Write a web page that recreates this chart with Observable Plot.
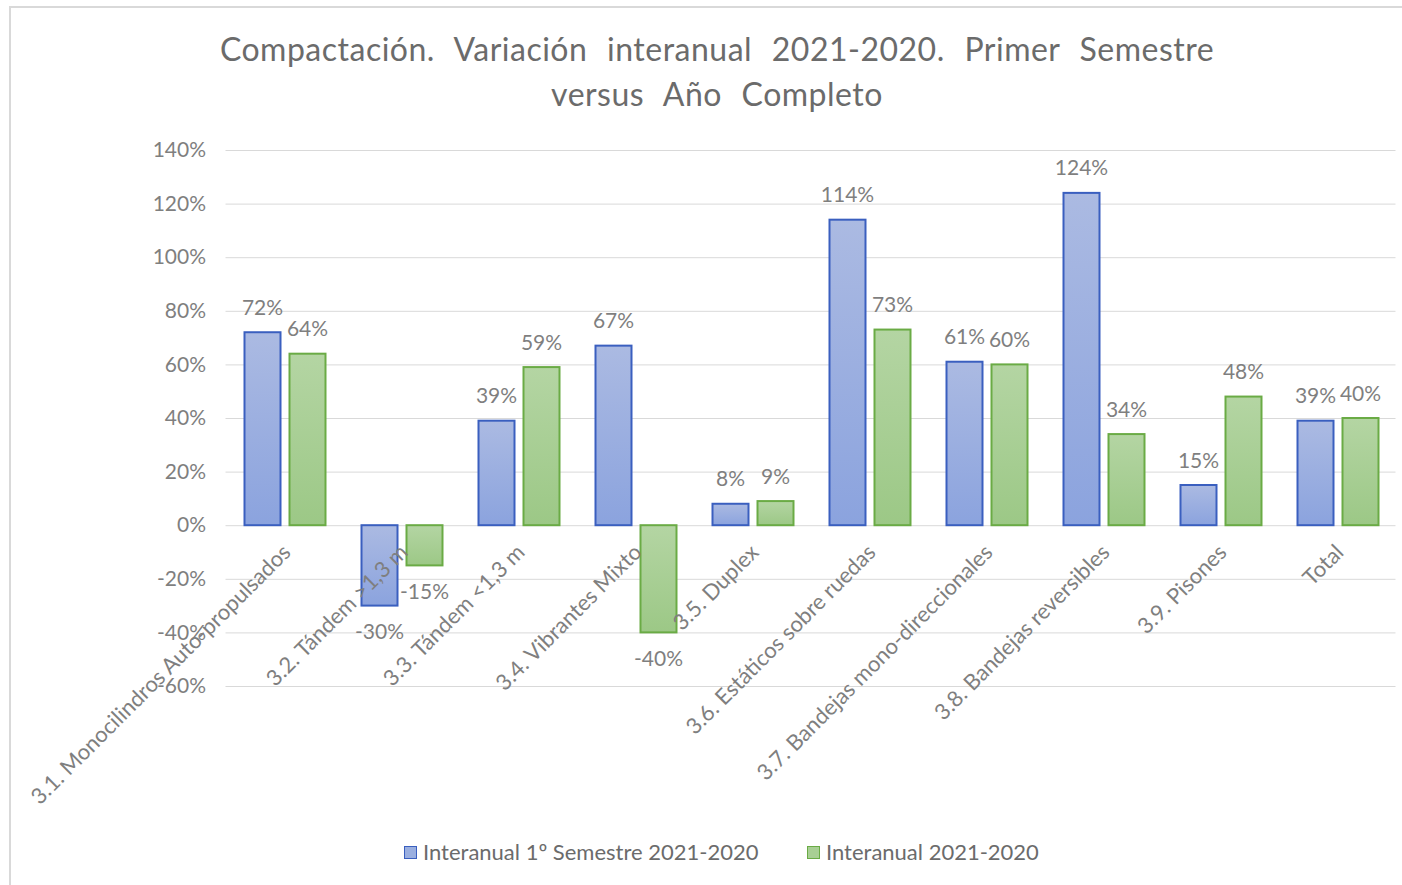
<!DOCTYPE html>
<html>
<head>
<meta charset="utf-8">
<script src="https://cdn.jsdelivr.net/npm/d3@7"></script>
<script src="https://cdn.jsdelivr.net/npm/@observablehq/plot@0.6"></script>
<style>
  html, body { margin: 0; padding: 0; background: #fff; overflow: hidden; }
  body { width: 1402px; height: 885px; position: relative; font-family: Lato, "Open Sans", sans-serif; }
  #frame { position: absolute; left: 9px; top: 6px; width: 1400px; height: 900px; border: 2px solid #d9d9d9; box-sizing: border-box; }
  #title { position: absolute; left: 9px; width: 1416px; top: 26px; text-align: center; font-size: 32px; line-height: 45px; color: #6b6b6b; word-spacing: 11px; letter-spacing: 0.5px; }
  #chart { position: absolute; left: 0; top: 130px; }
  #legend { position: absolute; top: 838px; left: 0; width: 1402px; font-size: 22px; color: #6b6b6b; }
  .item { position: absolute; top: 0; white-space: nowrap; }
  .sw { display: inline-block; width: 11px; height: 11px; border: 1.5px solid; margin-right: 6px; vertical-align: 1px; }
</style>
</head>
<body>
<div id="frame"></div>
<div id="title">Compactación. Variación interanual 2021-2020. Primer Semestre<br>versus Año Completo</div>
<div id="chart"></div>
<div id="legend"></div>
<script>
const categories = [
  "3.1. Monocilindros Auto-propulsados",
  "3.2. Tándem >1,3 m",
  "3.3. Tándem <1,3 m",
  "3.4. Vibrantes Mixto",
  "3.5. Duplex",
  "3.6. Estáticos sobre ruedas",
  "3.7. Bandejas mono-direccionales",
  "3.8. Bandejas reversibles",
  "3.9. Pisones",
  "Total"
];
const semestre = [72, -30, 39, 67, 8, 114, 61, 124, 15, 39];
const anual = [64, -15, 59, -40, 9, 73, 60, 34, 48, 40];
const seriesNames = ["Interanual 1º Semestre 2021-2020", "Interanual 2021-2020"];
const yTicks = [-60, -40, -20, 0, 20, 40, 60, 80, 100, 120, 140];

const blueData = categories.map((c, i) => ({cat: c, value: semestre[i]}));
const greenData = categories.map((c, i) => ({cat: c, value: anual[i]}));

const defs = () => {
  const d = d3.create("svg:defs");
  const g1 = d.append("linearGradient").attr("id", "gBlue").attr("x1", 0).attr("y1", 0).attr("x2", 0).attr("y2", 1);
  g1.append("stop").attr("offset", "0%").attr("stop-color", "#abbae2");
  g1.append("stop").attr("offset", "100%").attr("stop-color", "#8ba3de");
  const g2 = d.append("linearGradient").attr("id", "gGreen").attr("x1", 0).attr("y1", 0).attr("x2", 0).attr("y2", 1);
  g2.append("stop").attr("offset", "0%").attr("stop-color", "#b4d5a3");
  g2.append("stop").attr("offset", "100%").attr("stop-color", "#9cc886");
  return d.node();
};

const blueStroke = "#3a5fbf";
const greenStroke = "#6aab45";
const labelColor = "#7f7f7f";

const chart = Plot.plot({
  width: 1402,
  height: 700,
  marginTop: 20,
  marginBottom: 144,
  marginLeft: 225.5,
  marginRight: 6.5,
  style: {fontSize: "21px", fontFamily: "Lato, 'Open Sans', sans-serif", color: labelColor, background: "transparent", overflow: "visible"},
  x: {domain: categories, padding: 0, axis: null},
  y: {domain: [-60, 140], ticks: yTicks, tickFormat: d => d + "%", tickSize: 0, tickPadding: 20, label: null},
  marks: [
    defs,
    Plot.ruleY(yTicks, {stroke: "#d9d9d9", strokeWidth: 1}),
    Plot.barY(blueData, {x: "cat", y: "value", fill: "url(#gBlue)", stroke: blueStroke, strokeWidth: 2, insetLeft: 18.5, insetRight: 62.5}),
    Plot.barY(greenData, {x: "cat", y: "value", fill: "url(#gGreen)", stroke: greenStroke, strokeWidth: 2, insetLeft: 63.5, insetRight: 17.5}),
    Plot.text(blueData.filter(d => d.value >= 0), {x: "cat", y: "value", text: d => d.value + "%", dx: -22.5, dy: -18, lineAnchor: "bottom", fill: labelColor, fontSize: 21}),
    Plot.text(greenData.filter(d => d.value >= 0), {x: "cat", y: "value", text: d => d.value + "%", dx: 22.5, dy: -18, lineAnchor: "bottom", fill: labelColor, fontSize: 21}),
    Plot.text(blueData.filter(d => d.value < 0), {x: "cat", y: "value", text: d => d.value + "%", dx: -22.5, dy: 18, lineAnchor: "top", fill: labelColor, fontSize: 21}),
    Plot.text(greenData.filter(d => d.value < 0), {x: "cat", y: "value", text: d => d.value + "%", dx: 22.5, dy: 18, lineAnchor: "top", fill: labelColor, fontSize: 21}),
    Plot.text(categories, {x: d => d, y: () => 0, text: d => d, rotate: -45, textAnchor: "end", lineAnchor: "top", dx: -4, dy: 17, fill: labelColor, fontSize: 22})
  ]
});
document.getElementById("chart").appendChild(chart);

const legend = document.getElementById("legend");
const items = [
  {name: seriesNames[0], fill: "#9aafe0", stroke: blueStroke, left: 404},
  {name: seriesNames[1], fill: "#a8cf94", stroke: greenStroke, left: 807}
];
for (const it of items) {
  const div = document.createElement("div");
  div.className = "item";
  div.style.left = it.left + "px";
  const sw = document.createElement("span");
  sw.className = "sw";
  sw.style.background = it.fill;
  sw.style.borderColor = it.stroke;
  div.appendChild(sw);
  div.appendChild(document.createTextNode(it.name));
  legend.appendChild(div);
}
</script>
</body>
</html>
